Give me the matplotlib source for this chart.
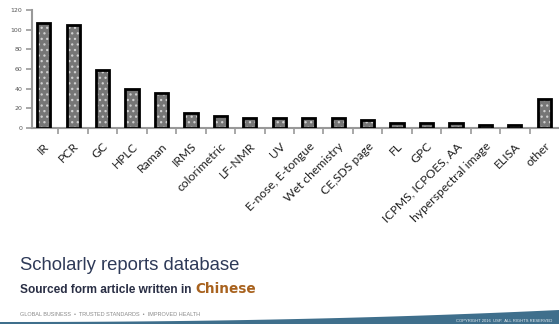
import matplotlib
matplotlib.use("Agg")
import matplotlib.pyplot as plt
from matplotlib.patches import Polygon
import numpy as np

# Number of reports per analytical technique
techniques = ["IR", "PCR", "GC", "HPLC", "Raman", "IRMS", "colorimetric", "LF-NMR", "UV",
              "E-nose, E-tongue", "Wet chemistry", "CE,SDS page", "FL", "GPC",
              "ICPMS, ICPOES, AA", "hyperspectral image", "ELISA", "other"]
counts = [107, 105, 59, 40, 36, 15, 12, 10, 10, 10, 10, 8, 5, 5, 5, 3, 3, 29]
y_ticks = [0, 20, 40, 60, 80, 100, 120]

title_text = "Scholarly reports database"
subtitle_text = "Sourced form article written in "
subtitle_highlight = "Chinese"
footer_text = "GLOBAL BUSINESS  \u2022  TRUSTED STANDARDS  \u2022  IMPROVED HEALTH"
copyright_text = "COPYRIGHT 2016  USP.  ALL RIGHTS RESERVED"

W, H = 559, 324
fig = plt.figure(figsize=(W / 100, H / 100), dpi=100)
fig.patch.set_facecolor("white")

ax = fig.add_axes([32 / W, 1 - 128 / H, 1 - 32 / W, (128 - 10) / H])
x = np.arange(len(techniques))

# patterned fill: grey base with a light dotted hatch, then a heavy black outline
plt.rcParams["hatch.linewidth"] = 0.9
ax.bar(x, counts, width=0.45, color="#767676", edgecolor="#d0d0d0", hatch="...", linewidth=0, zorder=2)
ax.bar(x, counts, width=0.45, fill=False, edgecolor="black", linewidth=2.0, zorder=3)

ax.set_ylim(0, 120)
ax.set_xlim(-0.4, len(techniques) - 0.5)
ax.set_yticks(y_ticks)
ax.set_yticklabels([str(v) for v in y_ticks], fontsize=4.5, color="#555555")
ax.tick_params(axis="y", length=4, width=1.2, color="#999999", pad=3)

ax.set_xticks(x)
ax.set_xticklabels(techniques, rotation=45, ha="right", va="top", rotation_mode="anchor",
                   fontsize=8.7, family="Lato", color="#222222")
ax.tick_params(axis="x", which="major", length=0, pad=9)
ax.set_xticks(x[:-1] + 0.5, minor=True)
ax.tick_params(axis="x", which="minor", length=4, width=1.2, color="#999999", direction="out")

for side in ("top", "right"):
    ax.spines[side].set_visible(False)
for side in ("left", "bottom"):
    ax.spines[side].set_color("#999999")
    ax.spines[side].set_linewidth(1.5)

# slide heading block
fig.text(20 / W, 1 - 266 / H, title_text, fontsize=13.3, color="#2e3a58",
         family="Liberation Sans", va="center", ha="left")
sub = fig.text(20 / W, 1 - 290 / H, subtitle_text, fontsize=8.6, color="#2a2f45",
               family="Liberation Sans", weight="bold", va="center", ha="left")
fig.canvas.draw()
bb = sub.get_window_extent()
fig.text(bb.x1 / W + 1 / W, 1 - 289 / H, subtitle_highlight, fontsize=9.8, color="#a8621e",
         family="DejaVu Sans", weight="bold", va="center", ha="left")
fig.text(20 / W, 1 - 315 / H, footer_text, fontsize=4.0, color="#8a8a8a",
         family="Liberation Sans", va="center", ha="left")

# swoosh band along the bottom edge
xs = np.linspace(0, 1, 60)
top = (1 - 322 / H) + ((322 - 310) / H) * xs ** 2.2
verts = [(0, 0)] + list(zip(xs, top)) + [(1, 0)]
band = Polygon(verts, closed=True, transform=fig.transFigure, facecolor="#3f6f8c",
               edgecolor="none", zorder=0)
fig.patches.append(band)
fig.text(552 / W, 1 - 321 / H, copyright_text, fontsize=3.0, color="#e8eef2",
         family="Liberation Sans", va="center", ha="right")

fig.savefig("out.png", dpi=100)
